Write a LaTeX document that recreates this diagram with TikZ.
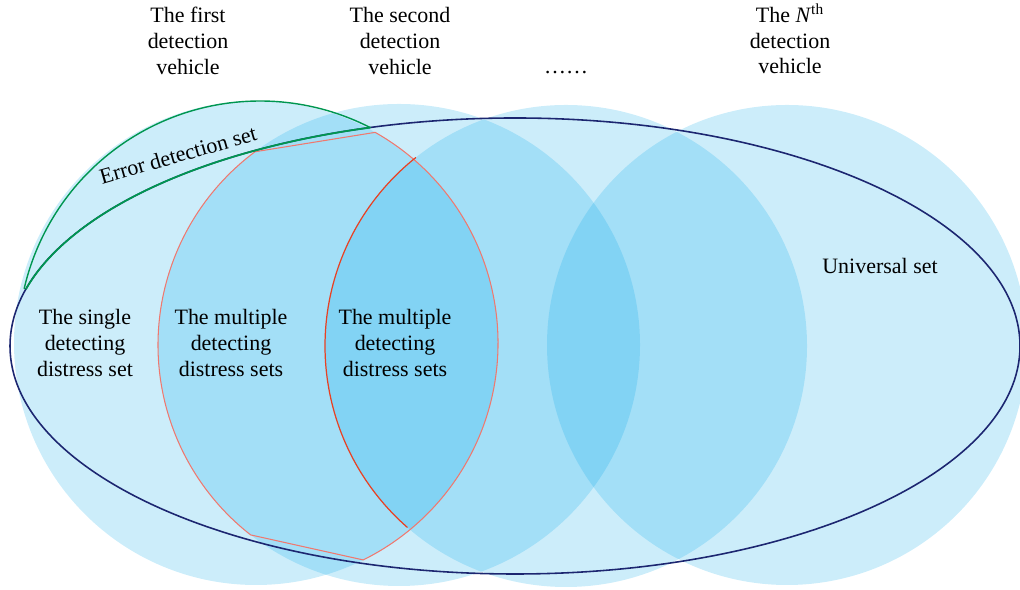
\documentclass[tikz,border=0pt]{standalone}
\usepackage{fontspec}
\setmainfont{Liberation Serif}
\usetikzlibrary{calc}
\definecolor{setblue}{RGB}{0,165,232}
\definecolor{univnavy}{RGB}{28,38,112}
\definecolor{errgreen}{RGB}{0,150,80}
\definecolor{multsalmon}{RGB}{240,120,110}
\definecolor{multred}{RGB}{232,65,35}
\begin{document}
\begin{tikzpicture}[x=0.02cm,y=0.02cm,line cap=round,line join=round,
  vset/.style={fill=setblue,fill opacity=0.2},
  lbl/.style={align=center,inner sep=0pt,font=\fontsize{12.5}{14.7}\selectfont}]
  \useasboundingbox (0,0) rectangle (1020,590);
  \coordinate (c1) at (256,247);
  \coordinate (c2) at (399,245);
  \coordinate (c3) at (566,244);
  \coordinate (c4) at (787,245);
  \coordinate (e) at (260,247);
  \coordinate (u) at (515,244);
  \foreach \c/\r in {c1/242,c2/241,c3/241,c4/240}
    \fill[vset] (\c) circle[radius=\r];
  % sets seen by several vehicles
  \draw[multsalmon,line width=0.6pt] ($(c2)+(126.7:241)$) -- ($(c1)+(60.5:242)$)
    arc[start angle=60.5,end angle=-63.7,radius=242] -- ($(c2)+(232:241)$)
    arc[start angle=232,end angle=126.7,radius=241] -- cycle;
  \draw[multred,line width=0.7pt] ($(c3)+(128.6:241)$)
    arc[start angle=128.6,end angle=228.8,radius=241];
  % universal set
  \draw[univnavy,line width=0.9pt] (u) ellipse[x radius=505,y radius=228];
  % error detection set
  \draw[errgreen,line width=0.8pt] ($(e)+(167:242)$)
    arc[start angle=167,end angle=62.9,radius=242];
  \draw[errgreen,line width=1pt] ($(u)+(165.5:505 and 228)$)
    arc[start angle=165.5,end angle=106.7,x radius=505,y radius=228];
  \node[lbl] (veh1) at (188,549) {The first\\detection\\vehicle};
  \node[lbl] (veh2) at (400,549) {The second\\detection\\vehicle};
  \node[lbl,anchor=base] (dots) at (566,516) {……};
  \node[lbl] (vehn) at (790,551) {The \textit{N}\textsuperscript{th}\\detection\\vehicle};
  \node[lbl,rotate=16] (err) at (178,435) {Error detection set};
  \node[lbl] (single) at (85,247) {The single\\detecting\\distress set};
  \node[lbl] (multa) at (231,247) {The multiple\\detecting\\distress sets};
  \node[lbl] (multb) at (395,247) {The multiple\\detecting\\distress sets};
  \node[lbl] (univ) at (880,324) {Universal set};
\end{tikzpicture}
\end{document}
